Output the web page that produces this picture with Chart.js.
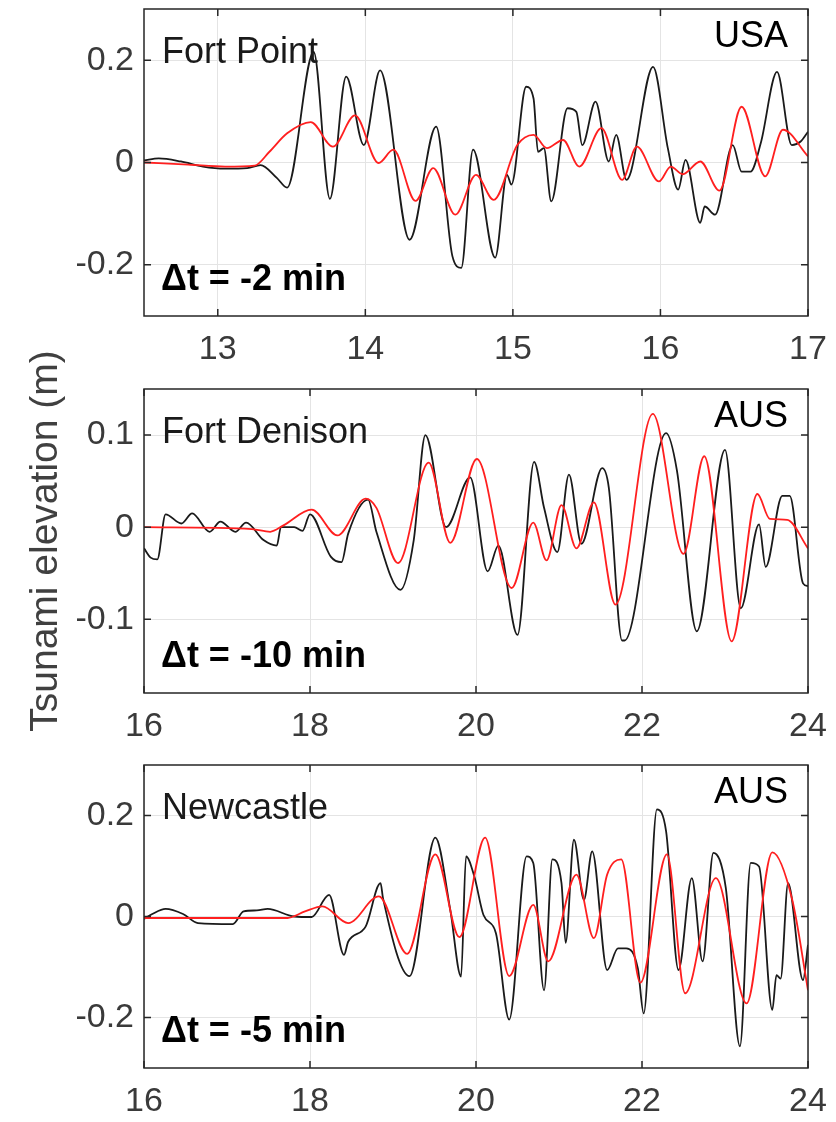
<!DOCTYPE html>
<html>
<head>
<meta charset="utf-8">
<script src="https://cdn.jsdelivr.net/npm/chart.js@4.4.1/dist/chart.umd.min.js"></script>
<style>
  body { margin: 0; background: #fff; }
  #wrap { position: relative; width: 836px; height: 1122px; }
  canvas { position: absolute; left: 0; }
</style>
</head>
<body>
<div id="wrap">
  <canvas id="fortPoint" width="836" height="380" style="top:0px"></canvas>
  <canvas id="fortDenison" width="836" height="460" style="top:300px"></canvas>
  <canvas id="newcastle" width="836" height="372" style="top:750px"></canvas>
</div>
<script>
// ---- Fort Point (USA), hours ----
const fpObsT = [12.50, 12.60, 12.75, 12.90, 13.05, 13.20, 13.29, 13.40, 13.47, 13.65, 13.76, 13.87, 13.99, 14.10, 14.30, 14.48, 14.59, 14.65, 14.73, 14.88, 14.96, 14.99, 15.09, 15.14, 15.17, 15.21, 15.26, 15.37, 15.43, 15.47, 15.56, 15.65, 15.70, 15.77, 15.80, 15.95, 16.05, 16.12, 16.17, 16.27, 16.30, 16.37, 16.49, 16.55, 16.61, 16.68, 16.79, 16.89, 16.95, 17.00];
const fpObsV = [0.004, 0.008, 0.002, -0.008, -0.012, -0.011, -0.005, -0.030, -0.049, 0.216, -0.071, 0.168, 0.034, 0.180, -0.151, 0.070, -0.183, -0.206, 0.025, -0.186, -0.024, -0.043, 0.148, 0.125, 0.021, 0.028, -0.076, 0.106, 0.099, 0.034, 0.119, 0.002, 0.054, -0.034, -0.018, 0.187, 0.028, -0.053, 0.005, -0.118, -0.086, -0.102, 0.034, -0.018, -0.018, 0.038, 0.177, 0.034, 0.041, 0.060];
const fpModT = [12.50, 12.80, 13.05, 13.25, 13.35, 13.47, 13.63, 13.78, 13.93, 14.09, 14.19, 14.34, 14.46, 14.61, 14.75, 14.87, 15.03, 15.14, 15.23, 15.34, 15.45, 15.60, 15.74, 15.84, 15.99, 16.07, 16.15, 16.27, 16.40, 16.55, 16.71, 16.83, 17.00];
const fpModV = [0, -0.004, -0.008, -0.006, 0.021, 0.057, 0.079, 0.031, 0.092, -0.001, 0.025, -0.075, -0.011, -0.102, -0.024, -0.073, 0.034, 0.054, 0.028, 0.044, -0.008, 0.067, -0.034, 0.031, -0.037, -0.008, -0.023, 0.002, -0.055, 0.109, -0.027, 0.064, 0.012];
const fpXTicks = [13, 14, 15, 16, 17];
const fpYTicks = [-0.2, 0, 0.2];

// ---- Fort Denison (AUS) ----
const fdObsT = [16.00, 16.08, 16.16, 16.26, 16.45, 16.58, 16.79, 16.92, 17.10, 17.23, 17.44, 17.60, 17.65, 17.81, 17.91, 18.00, 18.25, 18.38, 18.46, 18.70, 18.80, 19.09, 19.25, 19.39, 19.64, 19.93, 20.14, 20.27, 20.50, 20.70, 20.82, 20.98, 21.12, 21.27, 21.52, 21.60, 21.76, 21.79, 22.29, 22.42, 22.66, 23.00, 23.19, 23.41, 23.49, 23.69, 23.78, 23.94, 24.00];
const fdObsV = [-0.023, -0.033, -0.035, 0.014, 0.004, 0.015, -0.005, 0.006, -0.005, 0.005, -0.014, -0.020, 0.000, 0.000, -0.004, 0.014, -0.032, -0.038, -0.007, 0.030, -0.005, -0.068, -0.014, 0.100, 0.000, 0.054, -0.048, -0.020, -0.117, 0.071, 0.021, -0.027, 0.057, -0.018, 0.064, 0.043, -0.123, -0.123, 0.102, 0.062, -0.113, 0.084, -0.088, 0.003, -0.043, 0.034, 0.034, -0.061, -0.064];
const fdModT = [16.00, 17.30, 17.52, 17.68, 18.02, 18.33, 18.67, 18.80, 19.06, 19.43, 19.69, 20.01, 20.43, 20.69, 20.85, 21.03, 21.21, 21.42, 21.68, 22.13, 22.50, 22.75, 23.08, 23.39, 23.54, 23.75, 24.00];
const fdModV = [0.000, -0.002, -0.005, 0.002, 0.019, -0.009, 0.031, 0.021, -0.039, 0.070, -0.017, 0.074, -0.066, 0.005, -0.036, 0.024, -0.023, 0.027, -0.084, 0.123, -0.029, 0.077, -0.124, 0.036, 0.009, 0.008, -0.023];
const fdXTicks = [16, 18, 20, 22, 24];
const fdYTicks = [-0.1, 0, 0.1];

// ---- Newcastle (AUS) ----
const ncObsT = [16.00, 16.10, 16.26, 16.47, 16.65, 17.07, 17.20, 17.36, 17.49, 17.81, 18.02, 18.23, 18.41, 18.46, 18.67, 18.85, 18.88, 19.20, 19.51, 19.69, 19.82, 19.88, 19.98, 20.09, 20.24, 20.40, 20.61, 20.69, 20.82, 20.92, 21.03, 21.08, 21.18, 21.30, 21.40, 21.58, 21.71, 21.81, 21.95, 22.02, 22.18, 22.29, 22.44, 22.60, 22.73, 22.86, 23.01, 23.18, 23.31, 23.41, 23.57, 23.62, 23.67, 23.76, 23.94, 24.00];
const ncObsV = [-0.005, 0.005, 0.015, 0.005, -0.013, -0.015, 0.010, 0.012, 0.015, 0.000, -0.001, 0.043, -0.076, -0.050, -0.020, 0.066, 0.036, -0.118, 0.156, 0.013, -0.119, 0.119, 0.079, 0.003, -0.033, -0.204, 0.119, 0.106, -0.146, 0.113, 0.066, -0.052, 0.152, 0.033, 0.129, -0.106, -0.063, -0.063, -0.103, -0.192, 0.212, 0.169, -0.106, 0.076, -0.089, 0.126, 0.056, -0.257, 0.106, 0.099, -0.185, -0.116, -0.123, 0.066, -0.126, -0.056];
const ncModT = [16.00, 17.73, 17.94, 18.15, 18.46, 18.83, 19.17, 19.51, 19.80, 20.11, 20.40, 20.69, 20.87, 21.21, 21.42, 21.58, 21.75, 21.98, 22.30, 22.52, 22.89, 23.26, 23.57, 23.81, 24.00];
const ncModV = [-0.003, -0.003, 0.010, 0.020, -0.013, 0.040, -0.074, 0.123, -0.041, 0.156, -0.118, 0.023, -0.089, 0.083, -0.043, 0.083, 0.113, -0.131, 0.123, -0.152, 0.076, -0.172, 0.127, 0.033, -0.146];
const ncXTicks = [16, 18, 20, 22, 24];
const ncYTicks = [-0.2, 0, 0.2];

const FONT = '"Liberation Sans", Arial, Helvetica, sans-serif';

function toPoints(ts, vs) {
  return ts.map((t, i) => ({ x: t, y: vs[i] }));
}

// box, inward ticks and the panel texts (MATLAB style axes)
const panelDeco = {
  id: 'panelDeco',
  afterDatasetsDraw(chart, args, opts) {
    const { ctx, chartArea: a, scales: { x, y } } = chart;
    ctx.save();
    ctx.strokeStyle = '#262626';
    ctx.lineWidth = 1.5;
    ctx.strokeRect(a.left, a.top, a.right - a.left, a.bottom - a.top);
    ctx.beginPath();
    x.ticks.forEach(t => {
      const px = x.getPixelForValue(t.value);
      ctx.moveTo(px, a.bottom); ctx.lineTo(px, a.bottom - 7);
      ctx.moveTo(px, a.top); ctx.lineTo(px, a.top + 7);
    });
    y.ticks.forEach(t => {
      const py = y.getPixelForValue(t.value);
      ctx.moveTo(a.left, py); ctx.lineTo(a.left + 7, py);
      ctx.moveTo(a.right, py); ctx.lineTo(a.right - 7, py);
    });
    ctx.stroke();

    ctx.fillStyle = '#1a1a1a';
    ctx.textBaseline = 'alphabetic';
    ctx.font = '36px ' + FONT;
    ctx.textAlign = 'left';
    ctx.fillText(opts.station, a.left + 18, a.top + 54);
    ctx.fillStyle = '#000';
    ctx.textAlign = 'right';
    ctx.fillText(opts.country, a.right - 20, a.top + 38);
    ctx.font = 'bold 36px ' + FONT;
    ctx.textAlign = 'left';
    ctx.fillText(opts.shift, a.left + 17, a.bottom - 26);
    ctx.restore();
  }
};

function drawPanel(id, o) {
  const context = document.querySelector('#' + id).getContext('2d');
  return new Chart(context, {
    type: 'line',
    data: {
      datasets: [
        // model (red) first so it is drawn on top
        { data: toPoints(o.modT, o.modV), borderColor: '#ff1f1f', borderWidth: 1.8,
          pointRadius: 0, cubicInterpolationMode: 'monotone' },
        { data: toPoints(o.obsT, o.obsV), borderColor: '#1a1a1a', borderWidth: 1.8,
          pointRadius: 0, cubicInterpolationMode: 'monotone' }
      ]
    },
    options: {
      responsive: false,
      animation: false,
      events: [],
      layout: { padding: { top: o.padTop, right: 28, left: 0, bottom: 0 } },
      plugins: {
        legend: { display: false },
        tooltip: { enabled: false },
        panelDeco: { station: o.station, country: o.country, shift: o.shift }
      },
      scales: {
        x: {
          type: 'linear',
          min: o.xMin, max: o.xMax,
          afterBuildTicks: s => { s.ticks = o.xTicks.map(v => ({ value: v })); },
          afterFit: s => { s.height = o.xAxisH; s.paddingLeft = 0; s.paddingRight = 0; },
          grid: { color: '#e4e4e4', lineWidth: 1, drawTicks: false },
          border: { display: false },
          ticks: { color: '#3a3a3a', padding: 13, font: { family: FONT, size: 34 },
                   maxRotation: 0, callback: v => String(v) }
        },
        y: {
          type: 'linear',
          min: o.yMin, max: o.yMax,
          afterBuildTicks: s => { s.ticks = o.yTicks.map(v => ({ value: v })); },
          // fixed axis width, and no extra room for the end labels
          afterFit: s => { s.width = 144; s.paddingTop = 0; s.paddingBottom = 0; },
          grid: { color: '#e4e4e4', lineWidth: 1, drawTicks: false },
          border: { display: false },
          ticks: { color: '#3a3a3a', padding: 10, font: { family: FONT, size: 34 },
                   callback: v => String(v) },
          title: o.yTitle ? {
            display: true, text: o.yTitle, color: '#404040',
            font: { family: FONT, size: 39 }, padding: { top: 23, bottom: 0 }
          } : { display: false }
        }
      }
    },
    plugins: [panelDeco]
  });
}

drawPanel('fortPoint', {
  obsT: fpObsT, obsV: fpObsV, modT: fpModT, modV: fpModV,
  xTicks: fpXTicks, yTicks: fpYTicks, xMin: 12.5, xMax: 17, yMin: -0.3, yMax: 0.3,
  padTop: 9, xAxisH: 64,
  station: 'Fort Point', country: 'USA', shift: 'Δt = -2 min'
});

drawPanel('fortDenison', {
  obsT: fdObsT, obsV: fdObsV, modT: fdModT, modV: fdModV,
  xTicks: fdXTicks, yTicks: fdYTicks, xMin: 16, xMax: 24, yMin: -0.18, yMax: 0.15,
  padTop: 89, xAxisH: 67, yTitle: 'Tsunami elevation (m)',
  station: 'Fort Denison', country: 'AUS', shift: 'Δt = -10 min'
});

drawPanel('newcastle', {
  obsT: ncObsT, obsV: ncObsV, modT: ncModT, modV: ncModV,
  xTicks: ncXTicks, yTicks: ncYTicks, xMin: 16, xMax: 24, yMin: -0.3, yMax: 0.3,
  padTop: 15, xAxisH: 54,
  station: 'Newcastle', country: 'AUS', shift: 'Δt = -5 min'
});
</script>
</body>
</html>
